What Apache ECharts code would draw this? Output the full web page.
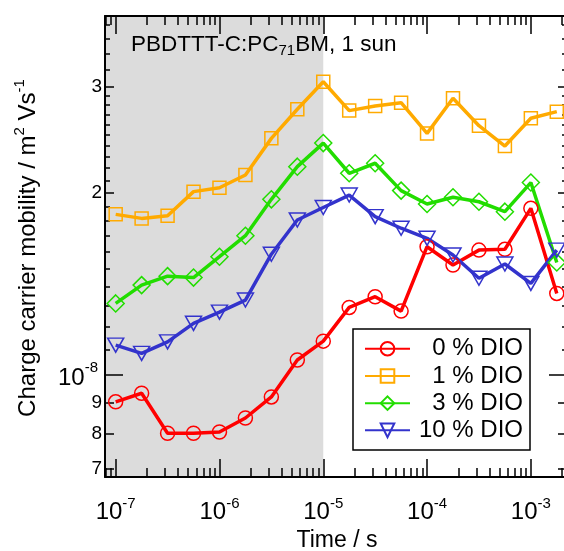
<!DOCTYPE html>
<html><head><meta charset="utf-8">
<script src="https://cdn.jsdelivr.net/npm/echarts@6/dist/echarts.min.js"></script>
<style>html,body{margin:0;padding:0;background:#fff}#c{width:564px;height:551px}</style>
</head><body><div id="c"></div>
<script>
// ---- data ----
const times = [1e-7, 1.778e-7, 3.162e-7, 5.623e-7, 1e-6, 1.778e-6, 3.162e-6, 5.623e-6, 1e-5,
  1.778e-5, 3.162e-5, 5.623e-5, 1e-4, 1.778e-4, 3.162e-4, 5.623e-4, 1e-3, 1.778e-3];
const dio0 = [9.03e-9, 9.33e-9, 8.01e-9, 8.01e-9, 8.05e-9, 8.49e-9, 9.20e-9, 1.059e-8, 1.138e-8,
  1.294e-8, 1.348e-8, 1.276e-8, 1.631e-8, 1.521e-8, 1.610e-8, 1.615e-8, 1.888e-8, 1.365e-8];
const dio1 = [1.845e-8, 1.817e-8, 1.835e-8, 2.012e-8, 2.042e-8, 2.144e-8, 2.465e-8, 2.754e-8, 3.059e-8,
  2.740e-8, 2.789e-8, 2.824e-8, 2.512e-8, 2.872e-8, 2.587e-8, 2.394e-8, 2.661e-8, 2.729e-8];
const dio3 = [1.314e-8, 1.409e-8, 1.458e-8, 1.450e-8, 1.570e-8, 1.701e-8, 1.954e-8, 2.213e-8, 2.421e-8,
  2.158e-8, 2.242e-8, 2.020e-8, 1.919e-8, 1.969e-8, 1.936e-8, 1.864e-8, 2.083e-8, 1.536e-8];
const dio10 = [1.121e-8, 1.086e-8, 1.135e-8, 1.218e-8, 1.271e-8, 1.331e-8, 1.585e-8, 1.806e-8, 1.894e-8,
  1.986e-8, 1.829e-8, 1.750e-8, 1.684e-8, 1.580e-8, 1.446e-8, 1.527e-8, 1.418e-8, 1.610e-8];
const seriesNames = ['0 % DIO', '1 % DIO', '3 % DIO', '10 % DIO'];
const shadeEnd = 1e-5;

// ---- axes / ticks ----
const xMin = 7.89e-8, xMax = 2.23e-3;
const yMin = 6.78e-9, yMax = 3.93e-8;
const xMajorTicks = [1e-7, 1e-6, 1e-5, 1e-4, 1e-3];
const xMajorExp = ['-7', '-6', '-5', '-4', '-3'];
const xMinorMult = [2, 3, 4, 5, 6, 7, 8, 9];
const xDecades = [1e-8, 1e-7, 1e-6, 1e-5, 1e-4, 1e-3];
const yDecadeTicks = [1e-8];
const yDecadeExp = ['-8'];
const yLabelTicks = [7e-9, 8e-9, 9e-9, 2e-8, 3e-8];
const yLabelText = ['7', '8', '9', '2', '3'];
const yMinorTicks = [1.1e-8, 1.2e-8, 1.3e-8, 1.4e-8, 1.5e-8, 1.6e-8, 1.7e-8, 1.8e-8, 1.9e-8,
  2.1e-8, 2.2e-8, 2.3e-8, 2.4e-8, 2.5e-8, 2.6e-8, 2.7e-8, 2.8e-8, 2.9e-8,
  3.2e-8, 3.4e-8, 3.6e-8, 3.8e-8];

const xMinorTicks = [];
xDecades.forEach(d => xMinorMult.forEach(m => { const v = d * m; if (v >= xMin && v <= xMax) xMinorTicks.push(v); }));

const FONT = 'Liberation Sans, Arial, Helvetica, sans-serif';
const LINE = { show: true, onZero: false, lineStyle: { color: '#000', width: 2 } };

function nearestIdx(arr, v) {
  let bi = 0, bd = Infinity;
  arr.forEach((a, i) => { const d = Math.abs(Math.log10(a) - Math.log10(v)); if (d < bd) { bd = d; bi = i; } });
  return bi;
}

function xAx(pos, ticks, len, showLine, label) {
  return {
    type: 'log', position: pos, min: xMin, max: xMax, z: 3,
    axisLine: showLine ? LINE : { show: false },
    splitLine: { show: false },
    axisTick: { show: true, inside: true, length: len, customValues: ticks, lineStyle: { color: '#000', width: 1.5 } },
    axisLabel: label ? {
      show: true, customValues: ticks, margin: 19,
      formatter: v => '{b|10}{s|' + xMajorExp[nearestIdx(xMajorTicks, v)] + '}',
      rich: {
        b: { fontSize: 24, fontFamily: FONT, color: '#000', lineHeight: 28, verticalAlign: 'bottom' },
        s: { fontSize: 15, fontFamily: FONT, color: '#000', lineHeight: 15, verticalAlign: 'top' }
      }
    } : { show: false }
  };
}
function yAx(pos, ticks, len, showLine, label) {
  return {
    type: 'log', position: pos, min: yMin, max: yMax, z: 3,
    axisLine: showLine ? LINE : { show: false },
    splitLine: { show: false },
    axisTick: { show: true, inside: true, length: len, customValues: ticks, lineStyle: { color: '#000', width: 1.5 } },
    axisLabel: label || { show: false }
  };
}

const decadeLabel = {
  show: true, customValues: yDecadeTicks, margin: 7,
  formatter: v => '{b|10}{s|' + yDecadeExp[nearestIdx(yDecadeTicks, v)] + '}',
  rich: {
    b: { fontSize: 24, fontFamily: FONT, color: '#000', lineHeight: 30, verticalAlign: 'bottom' },
    s: { fontSize: 15, fontFamily: FONT, color: '#000', lineHeight: 15, verticalAlign: 'top' }
  }
};
const minorLabel = {
  show: true, customValues: yLabelTicks, margin: 3, fontSize: 19, fontFamily: FONT, color: '#000',
  formatter: v => yLabelText[nearestIdx(yLabelTicks, v)]
};

const colors = ['#ff0000', '#ffaa00', '#22dd00', '#3333cc'];
const symbols = ['circle', 'rect', 'diamond', 'path://M0,0 L16,0 L8,14 Z'];
const symSizes = [14, 13, [17, 17], [16, 14]];
const datasets = [dio0, dio1, dio3, dio10];

const series = datasets.map((d, i) => ({
  name: seriesNames[i], type: 'line', z: 4,
  data: times.map((t, j) => [t, d[j]]),
  symbol: symbols[i], symbolSize: symSizes[i], showAllSymbol: true,
  lineStyle: { color: colors[i], width: 3.5 },
  itemStyle: { color: 'rgba(0,0,0,0)', borderColor: colors[i], borderWidth: 1.5 },
  emphasis: { disabled: true }
}));
series.unshift({
  name: 'shade', type: 'line', z: 1, data: [], silent: true,
  markArea: { silent: true, itemStyle: { color: '#dcdcdc' }, data: [[{ xAxis: xMin }, { xAxis: shadeEnd }]] }
});

const chart = echarts.init(document.getElementById('c'), null, { renderer: 'canvas' });
chart.setOption({
  animation: false,
  backgroundColor: '#fff',
  grid: { left: 105, right: -3, top: 16, bottom: 74, outerBoundsMode: 'none' },
  xAxis: [
    xAx('bottom', xMajorTicks, 18, true, true),
    xAx('bottom', xMinorTicks, 9, false, false),
    xAx('top', xMajorTicks, 18, true, false),
    xAx('top', xMinorTicks, 9, false, false)
  ],
  yAxis: [
    yAx('left', yDecadeTicks, 18, true, decadeLabel),
    yAx('left', yLabelTicks, 9, false, minorLabel),
    yAx('left', yMinorTicks, 5, false, null),
    yAx('right', yDecadeTicks, 18, true, null),
    yAx('right', yLabelTicks, 9, false, null),
    yAx('right', yMinorTicks, 5, false, null)
  ],
  legend: {
    data: seriesNames, orient: 'vertical', left: 353, top: 329,
    padding: [7.75, 7, 7.65, 11], itemWidth: 45, itemHeight: 17, itemGap: 3.2,
    borderColor: '#000', borderWidth: 1.5, backgroundColor: '#fff', z: 10,
    selectedMode: false,
    formatter: n => '{t|' + n + '}',
    textStyle: {
      color: '#000', fontSize: 24, fontFamily: FONT,
      rich: { t: { width: 108, align: 'right', fontSize: 24, lineHeight: 23, fontFamily: FONT, color: '#000' } }
    }
  },
  graphic: [
    {
      type: 'text', x: 131, y: 45, z: 20,
      style: {
        text: '{a|PBDTTT-C:PC}{s|71}{a|BM, 1 sun}', verticalAlign: 'middle', align: 'left',
        rich: {
          a: { fontSize: 22.5, fontFamily: FONT, fill: '#000', lineHeight: 26, verticalAlign: 'middle' },
          s: { fontSize: 15, fontFamily: FONT, fill: '#000', lineHeight: 15, verticalAlign: 'bottom' }
        }
      }
    },
    {
      type: 'text', x: 26, y: 248, rotation: Math.PI / 2, z: 20,
      style: {
        text: '{a|Charge carrier mobility / m}{s|2}{a| Vs}{s|-1}', align: 'center', verticalAlign: 'middle',
        rich: {
          a: { fontSize: 24, fontFamily: FONT, fill: '#000', lineHeight: 28, verticalAlign: 'bottom' },
          s: { fontSize: 15, fontFamily: FONT, fill: '#000', lineHeight: 15, verticalAlign: 'top' }
        }
      }
    },
    {
      type: 'text', x: 337, y: 541, z: 20,
      style: { text: 'Time / s', align: 'center', verticalAlign: 'middle', fontSize: 23, fontFamily: FONT, fill: '#000' }
    }
  ],
  series: series
});
</script></body></html>
